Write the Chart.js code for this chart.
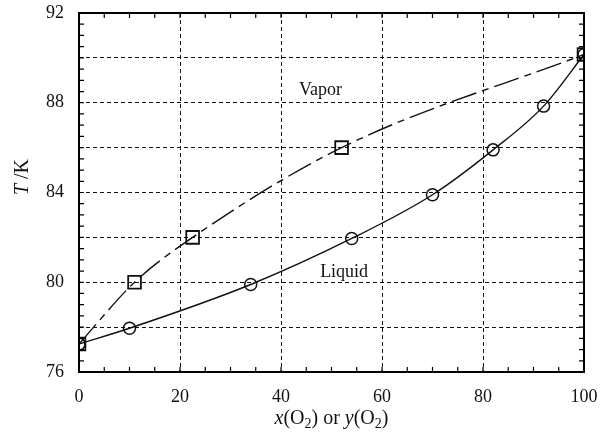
<!DOCTYPE html>
<html>
<head>
<meta charset="utf-8">
<script src="https://cdn.jsdelivr.net/npm/chart.js@4"></script>
<style>
body{margin:0;background:#fff}
</style>
</head>
<body>
<canvas id="myChart" width="601" height="440"></canvas>
<script>
// liquid (circles) and vapor (squares) curves, T in K vs mole % O2
var liquidX = [0, 10, 34, 54, 70, 82, 92, 100];
var liquidT = [77.25, 77.95, 79.9, 81.95, 83.9, 85.9, 87.85, 90.15];
var vaporX = [0, 11, 22.5, 52, 100];
var vaporT = [77.25, 80, 82, 86, 90.15];
var xTicks = [0, 20, 40, 60, 80, 100];
var yTicks = [76, 80, 84, 88, 92];

var serif = "'Liberation Serif', 'DejaVu Serif', serif";

function pts(xs, ys) {
    return xs.map(function (x, i) { return {x: x, y: ys[i]}; });
}

var gridColor = function (c) {
    var s = c.scale;
    if (c.tick && (c.tick.value === s.min || c.tick.value === s.max)) return 'rgba(0,0,0,0)';
    return '#111';
};

var extras = {
    id: 'extras',
    afterDraw: function (chart) {
        var ctx = chart.ctx, a = chart.chartArea;
        var xs = chart.scales.x, ys = chart.scales.y;
        ctx.save();
        ctx.strokeStyle = '#000';
        // minor ticks
        ctx.lineWidth = 1.2;
        ctx.beginPath();
        for (var v = 5; v < 100; v += 5) {
            var px = xs.getPixelForValue(v);
            ctx.moveTo(px, a.bottom); ctx.lineTo(px, a.bottom - 5);
            ctx.moveTo(px, a.top); ctx.lineTo(px, a.top + 5);
        }
        for (var t = 76.5; t < 92; t += 0.5) {
            var py = ys.getPixelForValue(t);
            ctx.moveTo(a.left, py); ctx.lineTo(a.left + 5, py);
            ctx.moveTo(a.right, py); ctx.lineTo(a.right - 5, py);
        }
        ctx.stroke();
        // frame
        ctx.lineWidth = 2;
        ctx.strokeRect(a.left, a.top, a.right - a.left, a.bottom - a.top);

        // region labels
        ctx.fillStyle = '#111';
        ctx.font = '18px ' + serif;
        ctx.textAlign = 'center';
        ctx.textBaseline = 'middle';
        ctx.fillText('Vapor', xs.getPixelForValue(47.8), ys.getPixelForValue(88.55));
        ctx.fillText('Liquid', xs.getPixelForValue(52.5), ys.getPixelForValue(80.45));

        // x title with subscripts
        var parts = [
            ['x', 'italic 20px ', 0], ['(O', '20px ', 0], ['2', '14px ', 4], [')', '20px ', 0],
            [' or ', '20px ', 0], ['y', 'italic 20px ', 0], ['(O', '20px ', 0], ['2', '14px ', 4], [')', '20px ', 0]
        ];
        ctx.textAlign = 'left';
        ctx.textBaseline = 'alphabetic';
        var w = 0;
        parts.forEach(function (p) { ctx.font = p[1] + serif; w += ctx.measureText(p[0]).width; });
        var x0 = (a.left + a.right) / 2 - w / 2;
        parts.forEach(function (p) {
            ctx.font = p[1] + serif;
            ctx.fillText(p[0], x0, 424 + p[2]);
            x0 += ctx.measureText(p[0]).width;
        });

        // y title
        ctx.translate(28, 177);
        ctx.rotate(-Math.PI / 2);
        ctx.font = 'italic 20px ' + serif;
        var w1 = ctx.measureText('T').width;
        ctx.font = '20px ' + serif;
        var w2 = ctx.measureText(' /K').width;
        ctx.font = 'italic 20px ' + serif;
        ctx.fillText('T', -(w1 + w2) / 2, 0);
        ctx.font = '20px ' + serif;
        ctx.fillText(' /K', -(w1 + w2) / 2 + w1, 0);
        ctx.restore();
    }
};

var ctx = document.getElementById('myChart').getContext('2d');
var myChart = new Chart(ctx, {
    type: 'scatter',
    data: {
        datasets: [{
            label: 'Vapor',
            data: pts(vaporX, vaporT),
            showLine: true,
            cubicInterpolationMode: 'monotone',
            borderColor: '#111',
            borderWidth: 1.4,
            borderDash: [26, 6, 7, 6],
            pointStyle: 'rect',
            pointRadius: 9,
            pointBorderWidth: 1.8,
            pointBackgroundColor: 'rgba(0,0,0,0)',
            pointBorderColor: '#111'
        }, {
            label: 'Liquid',
            data: pts(liquidX, liquidT),
            showLine: true,
            cubicInterpolationMode: 'monotone',
            borderColor: '#111',
            borderWidth: 1.4,
            pointStyle: 'circle',
            pointRadius: 6,
            pointBorderWidth: 1.5,
            pointBackgroundColor: 'rgba(0,0,0,0)',
            pointBorderColor: '#111'
        }]
    },
    options: {
        responsive: false,
        animation: false,
        layout: {padding: {top: 13, right: 17, left: 0, bottom: 0}},
        plugins: {legend: {display: false}, tooltip: {enabled: false}},
        scales: {
            x: {
                type: 'linear',
                min: 0, max: 100,
                afterBuildTicks: function (s) { s.ticks = xTicks.map(function (v) { return {value: v}; }); },
                afterFit: function (s) { s.height = 68; s.paddingLeft = 0; s.paddingRight = 0; },
                ticks: {color: '#111', font: {family: serif, size: 18}, padding: 14},
                grid: {color: gridColor, lineWidth: 1, drawTicks: false},
                border: {display: false, dash: [4, 3]}
            },
            y: {
                type: 'linear',
                min: 76, max: 92,
                afterBuildTicks: function (s) {
                    var t = [];
                    for (var v = 76; v <= 92; v += 2) t.push({value: v});
                    s.ticks = t;
                },
                afterFit: function (s) { s.width = 79; s.paddingTop = 0; s.paddingBottom = 0; },
                ticks: {
                    color: '#111', font: {family: serif, size: 18}, padding: 15,
                    callback: function (v) { return yTicks.indexOf(v) >= 0 ? v : ''; }
                },
                grid: {color: gridColor, lineWidth: 1, drawTicks: false},
                border: {display: false, dash: [4, 3]}
            }
        }
    },
    plugins: [extras]
});
</script>
</body>
</html>
